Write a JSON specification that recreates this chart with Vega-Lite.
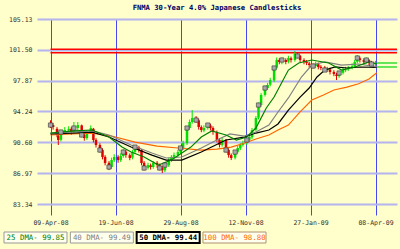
{
 "$schema": "https://vega.github.io/schema/vega-lite/v6.json",
 "autosize": {"type": "pad"},
 "padding": {"left": 3, "top": 3, "right": 4, "bottom": 6},
 "background": "#FFFFCC",
 "bounds": "flush",
 "spacing": 17,
 "config": {"view": {"stroke": null}, "font": "DejaVu Sans Mono", "axis": {"labelOverlap": false, "labelBound": false}},
 "datasets": {
  "candles": [
   {"i":0,"o":92.9,"c":92.64,"h":93.2,"l":92.3,"m":1},
   {"i":2,"o":92.64,"c":92.41,"h":92.9,"l":92.1},
   {"i":5,"o":92.2,"c":91.47,"h":92.4,"l":91.2},
   {"i":6,"o":91.4,"c":90.88,"h":91.6,"l":90.29},
   {"i":8,"o":90.9,"c":91.82,"h":92.1,"l":90.7,"m":1},
   {"i":11,"o":91.8,"c":92.06,"h":92.4,"l":91.6},
   {"i":14,"o":92.0,"c":92.2,"h":92.5,"l":91.8},
   {"i":16,"o":92.2,"c":91.82,"h":92.4,"l":91.5},
   {"i":18,"o":91.8,"c":92.29,"h":93.0,"l":91.6,"m":1},
   {"i":21,"o":92.3,"c":92.64,"h":93.0,"l":92.0},
   {"i":24,"o":92.6,"c":91.47,"h":92.7,"l":91.2,"m":1},
   {"i":26,"o":91.5,"c":91.11,"h":91.7,"l":90.8},
   {"i":28,"o":91.1,"c":91.82,"h":92.0,"l":90.9},
   {"i":31,"o":91.8,"c":92.29,"h":92.6,"l":91.6},
   {"i":33,"o":92.2,"c":90.88,"h":92.3,"l":90.6},
   {"i":35,"o":90.9,"c":90.29,"h":91.1,"l":90.0},
   {"i":38,"o":90.3,"c":89.7,"h":90.5,"l":89.4,"m":1},
   {"i":40,"o":89.7,"c":88.88,"h":89.9,"l":88.6},
   {"i":42,"o":88.9,"c":88.17,"h":89.1,"l":87.9},
   {"i":45,"o":88.2,"c":87.7,"h":88.4,"l":87.34,"m":1},
   {"i":47,"o":87.7,"c":88.52,"h":88.8,"l":87.5},
   {"i":49,"o":88.5,"c":88.88,"h":89.2,"l":88.3},
   {"i":52,"o":88.9,"c":88.52,"h":89.1,"l":88.2},
   {"i":54,"o":88.5,"c":88.99,"h":89.3,"l":88.3},
   {"i":56,"o":89.0,"c":89.46,"h":89.8,"l":88.8,"m":1},
   {"i":58,"o":89.5,"c":89.11,"h":89.7,"l":88.8},
   {"i":61,"o":89.1,"c":88.76,"h":89.3,"l":88.5},
   {"i":63,"o":88.8,"c":89.46,"h":89.7,"l":88.6},
   {"i":65,"o":89.5,"c":90.05,"h":90.29,"l":89.3,"m":1},
   {"i":68,"o":90.0,"c":89.7,"h":90.2,"l":89.4},
   {"i":70,"o":89.7,"c":88.17,"h":89.8,"l":87.9},
   {"i":72,"o":88.2,"c":87.58,"h":88.4,"l":87.3,"m":1},
   {"i":75,"o":87.6,"c":87.93,"h":88.2,"l":87.4},
   {"i":77,"o":87.9,"c":87.7,"h":88.1,"l":87.4},
   {"i":79,"o":87.7,"c":88.17,"h":88.4,"l":87.5},
   {"i":82,"o":88.2,"c":87.93,"h":88.4,"l":87.6},
   {"i":84,"o":87.9,"c":87.58,"h":88.1,"l":87.3,"m":1},
   {"i":86,"o":87.6,"c":87.34,"h":87.8,"l":86.99},
   {"i":88,"o":87.3,"c":87.93,"h":88.2,"l":87.1,"m":1},
   {"i":91,"o":87.9,"c":88.52,"h":88.8,"l":87.7},
   {"i":93,"o":88.5,"c":88.88,"h":89.1,"l":88.3},
   {"i":95,"o":88.9,"c":89.11,"h":89.4,"l":88.7},
   {"i":98,"o":89.1,"c":89.46,"h":89.7,"l":88.9},
   {"i":100,"o":89.5,"c":89.94,"h":90.2,"l":89.3,"m":1},
   {"i":102,"o":89.9,"c":90.52,"h":90.8,"l":89.7},
   {"i":105,"o":90.5,"c":92.29,"h":92.5,"l":90.3,"m":1},
   {"i":107,"o":92.3,"c":93.0,"h":93.3,"l":92.1},
   {"i":109,"o":93.0,"c":93.47,"h":94.41,"l":92.8},
   {"i":112,"o":93.5,"c":93.23,"h":93.7,"l":92.9,"m":1},
   {"i":114,"o":93.2,"c":92.41,"h":93.4,"l":92.1},
   {"i":116,"o":92.4,"c":92.06,"h":92.6,"l":91.8},
   {"i":118,"o":92.0,"c":92.29,"h":92.6,"l":91.8},
   {"i":121,"o":92.3,"c":92.64,"h":92.9,"l":92.1,"m":1},
   {"i":123,"o":92.6,"c":92.29,"h":92.8,"l":92.0},
   {"i":125,"o":92.3,"c":91.82,"h":92.5,"l":91.5},
   {"i":128,"o":91.8,"c":90.88,"h":92.0,"l":90.6},
   {"i":130,"o":90.9,"c":90.29,"h":91.1,"l":90.0},
   {"i":132,"o":90.3,"c":90.88,"h":91.2,"l":90.1},
   {"i":135,"o":90.9,"c":89.7,"h":91.0,"l":89.4,"m":1},
   {"i":137,"o":89.7,"c":89.11,"h":89.9,"l":88.8},
   {"i":139,"o":89.1,"c":88.76,"h":89.3,"l":88.52},
   {"i":142,"o":88.8,"c":89.46,"h":89.7,"l":88.6,"m":1},
   {"i":144,"o":89.5,"c":89.94,"h":90.2,"l":89.3},
   {"i":146,"o":89.9,"c":90.29,"h":90.5,"l":89.7},
   {"i":148,"o":90.3,"c":90.52,"h":90.8,"l":90.1},
   {"i":151,"o":90.5,"c":90.88,"h":91.1,"l":90.3,"m":1},
   {"i":153,"o":90.9,"c":91.23,"h":91.5,"l":90.7},
   {"i":155,"o":91.2,"c":92.06,"h":92.3,"l":91.0},
   {"i":158,"o":92.1,"c":93.47,"h":93.7,"l":91.9},
   {"i":160,"o":93.5,"c":95.0,"h":95.3,"l":93.3,"m":1},
   {"i":162,"o":95.0,"c":96.18,"h":96.4,"l":94.8},
   {"i":165,"o":96.2,"c":97.0,"h":97.3,"l":96.0,"m":1},
   {"i":167,"o":97.0,"c":97.36,"h":97.6,"l":96.8},
   {"i":169,"o":97.4,"c":97.95,"h":98.2,"l":97.2},
   {"i":172,"o":97.9,"c":99.36,"h":99.6,"l":97.7,"m":1},
   {"i":174,"o":99.4,"c":100.3,"h":100.6,"l":99.2},
   {"i":176,"o":100.3,"c":100.07,"h":100.5,"l":99.8},
   {"i":178,"o":100.1,"c":100.3,"h":100.6,"l":99.8,"m":1},
   {"i":181,"o":100.3,"c":100.07,"h":100.5,"l":99.8},
   {"i":183,"o":100.1,"c":100.54,"h":100.8,"l":99.9},
   {"i":185,"o":100.5,"c":100.3,"h":100.7,"l":100.0},
   {"i":188,"o":100.3,"c":101.01,"h":101.36,"l":100.1},
   {"i":190,"o":101.0,"c":100.77,"h":101.1,"l":100.5,"m":1},
   {"i":192,"o":100.8,"c":100.3,"h":100.9,"l":100.0},
   {"i":195,"o":100.3,"c":100.07,"h":100.5,"l":99.8},
   {"i":197,"o":100.1,"c":99.95,"h":100.3,"l":99.7},
   {"i":199,"o":99.9,"c":99.71,"h":100.1,"l":99.4},
   {"i":202,"o":99.7,"c":99.59,"h":99.9,"l":99.3,"m":1},
   {"i":204,"o":99.6,"c":99.83,"h":100.1,"l":99.4},
   {"i":206,"o":99.8,"c":99.48,"h":100.0,"l":99.2},
   {"i":208,"o":99.5,"c":99.36,"h":99.7,"l":99.1},
   {"i":211,"o":99.4,"c":99.12,"h":99.6,"l":98.9,"m":1},
   {"i":213,"o":99.1,"c":99.24,"h":99.5,"l":98.9},
   {"i":215,"o":99.2,"c":98.89,"h":99.4,"l":98.6},
   {"i":218,"o":98.9,"c":98.65,"h":99.1,"l":98.4},
   {"i":220,"o":98.6,"c":98.42,"h":98.8,"l":97.95},
   {"i":222,"o":98.4,"c":98.77,"h":99.0,"l":98.2,"m":1},
   {"i":225,"o":98.8,"c":99.12,"h":99.4,"l":98.6},
   {"i":227,"o":99.1,"c":99.2,"h":99.5,"l":98.9},
   {"i":229,"o":99.2,"c":99.36,"h":99.6,"l":99.0},
   {"i":232,"o":99.4,"c":99.59,"h":99.9,"l":99.2},
   {"i":234,"o":99.6,"c":100.07,"h":100.3,"l":99.4},
   {"i":236,"o":100.1,"c":100.54,"h":100.89,"l":99.9,"m":1},
   {"i":238,"o":100.5,"c":100.3,"h":100.7,"l":100.0},
   {"i":241,"o":100.3,"c":100.07,"h":100.5,"l":99.8},
   {"i":243,"o":100.1,"c":100.3,"h":100.6,"l":99.9,"m":1},
   {"i":245,"o":100.3,"c":99.95,"h":100.4,"l":99.7},
   {"i":247,"o":99.9,"c":99.83,"h":100.2,"l":99.6,"m":1},
   {"i":250,"o":99.8,"c":99.95,"h":100.2,"l":99.6}
  ],
  "ma": [
   {"s":"100","i":0,"v":91.47},{"s":"100","i":16,"v":91.6},{"s":"100","i":32,"v":91.7},{"s":"100","i":47,"v":91.35},{"s":"100","i":65,"v":90.64},{"s":"100","i":82,"v":90.17},{"s":"100","i":98,"v":89.94},{"s":"100","i":116,"v":89.7},{"s":"100","i":128,"v":89.8},{"s":"100","i":139,"v":90.05},{"s":"100","i":149,"v":90.5},{"s":"100","i":158,"v":91.0},{"s":"100","i":168,"v":91.47},{"s":"100","i":175,"v":92.06},{"s":"100","i":183,"v":92.64},{"s":"100","i":192,"v":94.2},{"s":"100","i":201,"v":95.59},{"s":"100","i":210,"v":96.18},{"s":"100","i":218,"v":96.77},{"s":"100","i":228,"v":97.1},{"s":"100","i":237,"v":97.5},{"s":"100","i":245,"v":98.06},{"s":"100","i":251,"v":98.8},
   {"s":"50","i":0,"v":91.6},{"s":"50","i":16,"v":91.7},{"s":"50","i":32,"v":91.8},{"s":"50","i":45,"v":91.23},{"s":"50","i":62,"v":90.05},{"s":"50","i":78,"v":89.1},{"s":"50","i":89,"v":88.52},{"s":"50","i":101,"v":88.52},{"s":"50","i":116,"v":89.46},{"s":"50","i":135,"v":90.88},{"s":"50","i":149,"v":91.23},{"s":"50","i":158,"v":91.7},{"s":"50","i":168,"v":92.06},{"s":"50","i":175,"v":92.77},{"s":"50","i":183,"v":94.41},{"s":"50","i":192,"v":95.94},{"s":"50","i":199,"v":97.0},{"s":"50","i":205,"v":98.3},{"s":"50","i":211,"v":99.12},{"s":"50","i":219,"v":99.48},{"s":"50","i":228,"v":99.36},{"s":"50","i":238,"v":99.48},{"s":"50","i":251,"v":99.44},
   {"s":"40","i":0,"v":91.7},{"s":"40","i":16,"v":91.8},{"s":"40","i":32,"v":91.95},{"s":"40","i":45,"v":91.47},{"s":"40","i":62,"v":90.29},{"s":"40","i":78,"v":89.35},{"s":"40","i":89,"v":88.76},{"s":"40","i":101,"v":88.88},{"s":"40","i":116,"v":89.94},{"s":"40","i":128,"v":90.88},{"s":"40","i":138,"v":91.6},{"s":"40","i":149,"v":91.35},{"s":"40","i":158,"v":91.82},{"s":"40","i":168,"v":92.64},{"s":"40","i":175,"v":94.18},{"s":"40","i":183,"v":95.83},{"s":"40","i":193,"v":98.3},{"s":"40","i":201,"v":99.71},{"s":"40","i":211,"v":100.07},{"s":"40","i":224,"v":99.71},{"s":"40","i":237,"v":99.83},{"s":"40","i":251,"v":99.49},
   {"s":"25","i":0,"v":91.7},{"s":"25","i":18,"v":91.95},{"s":"25","i":32,"v":92.06},{"s":"25","i":45,"v":91.23},{"s":"25","i":55,"v":90.05},{"s":"25","i":62,"v":89.46},{"s":"25","i":72,"v":88.88},{"s":"25","i":83,"v":87.93},{"s":"25","i":93,"v":88.52},{"s":"25","i":101,"v":89.35},{"s":"25","i":108,"v":90.05},{"s":"25","i":116,"v":91.23},{"s":"25","i":124,"v":91.95},{"s":"25","i":135,"v":91.47},{"s":"25","i":143,"v":90.88},{"s":"25","i":151,"v":91.23},{"s":"25","i":158,"v":92.29},{"s":"25","i":166,"v":94.65},{"s":"25","i":172,"v":95.94},{"s":"25","i":183,"v":99.12},{"s":"25","i":191,"v":99.95},{"s":"25","i":201,"v":100.3},{"s":"25","i":214,"v":99.95},{"s":"25","i":224,"v":99.12},{"s":"25","i":234,"v":99.48},{"s":"25","i":245,"v":100.07},{"s":"25","i":251,"v":99.85}
  ],
  "hlines": [
   {"p":101.56,"from":0,"to":266.5,"k":"res"},
   {"p":101.16,"from":0,"to":266.5,"k":"res"},
   {"p":99.95,"from":251,"to":266.5,"k":"ext"},
   {"p":99.48,"from":251,"to":266.5,"k":"ext"}
  ]
 },
 "vconcat": [
  {
   "width": 360,
   "height": 196,
   "title": {"text": "FNMA 30-Year 4.0% Japanese Candlesticks", "fontSize": 7.2, "fontWeight": "bold", "color": "#000066", "font": "DejaVu Sans Mono", "offset": 5},
   "layer": [
    {
     "data": {"name": "hlines"},
     "mark": {"type": "rule", "strokeWidth": 1.5},
     "encoding": {
      "x": {"field": "from", "type": "quantitative", "title": null, "scale": {"domain": [-10.385, 266.538], "nice": false, "zero": false},
        "axis": {"values": [0, 50, 100, 150, 200, 250], "tickCount": 20, "labelExpr": "['09-Apr-08','19-Jun-08','29-Aug-08','12-Nov-08','27-Jan-09','08-Apr-09'][round(datum.value/50)]", "labelOverlap": false, "grid": true, "gridColor": "#4848F0", "gridWidth": 1, "domain": false, "ticks": false, "labelFontSize": 6.5, "labelFont": "DejaVu Sans Mono", "labelColor": "#333333", "labelPadding": 4}},
      "x2": {"field": "to"},
      "y": {"field": "p", "type": "quantitative", "title": null, "scale": {"domain": [82.05, 105.13], "nice": false, "zero": false},
        "axis": {"values": [83.34, 86.97, 90.6, 94.24, 97.87, 101.5, 105.13], "tickCount": 20, "format": ".2f", "labelOverlap": false, "grid": true, "gridColor": "#B4B4EE", "gridWidth": 2, "domain": false, "ticks": false, "labelFontSize": 6.5, "labelFont": "DejaVu Sans Mono", "labelColor": "#333333", "labelPadding": 5}},
      "color": {"condition": {"test": "datum.k == 'res'", "value": "#FF0000"}, "value": "#33DD33"}
     }
    },
    {
     "data": {"name": "candles"},
     "mark": {"type": "rule", "strokeWidth": 1},
     "encoding": {
      "x": {"field": "i", "type": "quantitative", "title": null},
      "y": {"field": "l", "type": "quantitative", "title": null},
      "y2": {"field": "h"},
      "color": {"condition": {"test": "datum.c >= datum.o", "value": "#00E000"}, "value": "#E00000"}
     }
    },
    {
     "data": {"name": "candles"},
     "mark": {"type": "rule", "strokeWidth": 2.5},
     "encoding": {
      "x": {"field": "i", "type": "quantitative", "title": null},
      "y": {"field": "o", "type": "quantitative", "title": null},
      "y2": {"field": "c"},
      "color": {"condition": {"test": "datum.c >= datum.o", "value": "#00E000"}, "value": "#E00000"}
     }
    },
    {
     "data": {"name": "ma"},
     "mark": {"type": "line", "strokeWidth": 1.2},
     "encoding": {
      "x": {"field": "i", "type": "quantitative", "title": null},
      "y": {"field": "v", "type": "quantitative", "title": null},
      "color": {"field": "s", "type": "nominal", "legend": null, "scale": {"domain": ["100", "25", "40", "50"], "range": ["#FF6600", "#008000", "#808080", "#000000"]}}
     }
    },
    {
     "data": {"name": "candles"},
     "transform": [{"filter": "datum.m == 1"}],
     "mark": {"type": "square", "size": 18, "filled": true, "color": "#A8A8A8", "stroke": "#333333", "strokeWidth": 0.6, "opacity": 1},
     "encoding": {
      "x": {"field": "i", "type": "quantitative", "title": null},
      "y": {"field": "c", "type": "quantitative", "title": null}
     }
    }
   ]
  },
  {
   "width": 229,
   "height": 11,
   "data": {"values": [
    {"k": "25", "t": "25 DMA- 99.85"},
    {"k": "40", "t": "40 DMA- 99.49"},
    {"k": "50", "t": "50 DMA- 99.44"},
    {"k": "100", "t": "100 DMA- 98.80"}
   ]},
   "encoding": {
    "x": {"field": "k", "type": "nominal", "sort": null, "axis": null, "scale": {"range": [-33, 229], "paddingInner": 0.05, "paddingOuter": 0}}
   },
   "layer": [
    {
     "mark": {"type": "rect", "fill": "#FFFFEE"},
     "encoding": {
      "stroke": {"field": "k", "type": "nominal", "legend": null, "scale": {"domain": ["25", "40", "50", "100"], "range": ["#999999", "#999999", "#000000", "#B09070"]}},
      "strokeWidth": {"condition": {"test": "datum.k == '50'", "value": 2}, "value": 1}
     }
    },
    {
     "transform": [{"filter": "datum.k != '50'"}],
     "mark": {"type": "text", "fontSize": 7.4, "font": "DejaVu Sans Mono"},
     "encoding": {
      "text": {"field": "t"},
      "color": {"field": "k", "type": "nominal", "legend": null, "scale": {"domain": ["25", "40", "50", "100"], "range": ["#008000", "#666666", "#000000", "#FF6600"]}}
     }
    },
    {
     "transform": [{"filter": "datum.k == '50'"}],
     "mark": {"type": "text", "fontSize": 7.4, "font": "DejaVu Sans Mono", "fontWeight": "bold", "color": "#000000"},
     "encoding": {
      "text": {"field": "t"}
     }
    }
   ]
  }
 ]
}
